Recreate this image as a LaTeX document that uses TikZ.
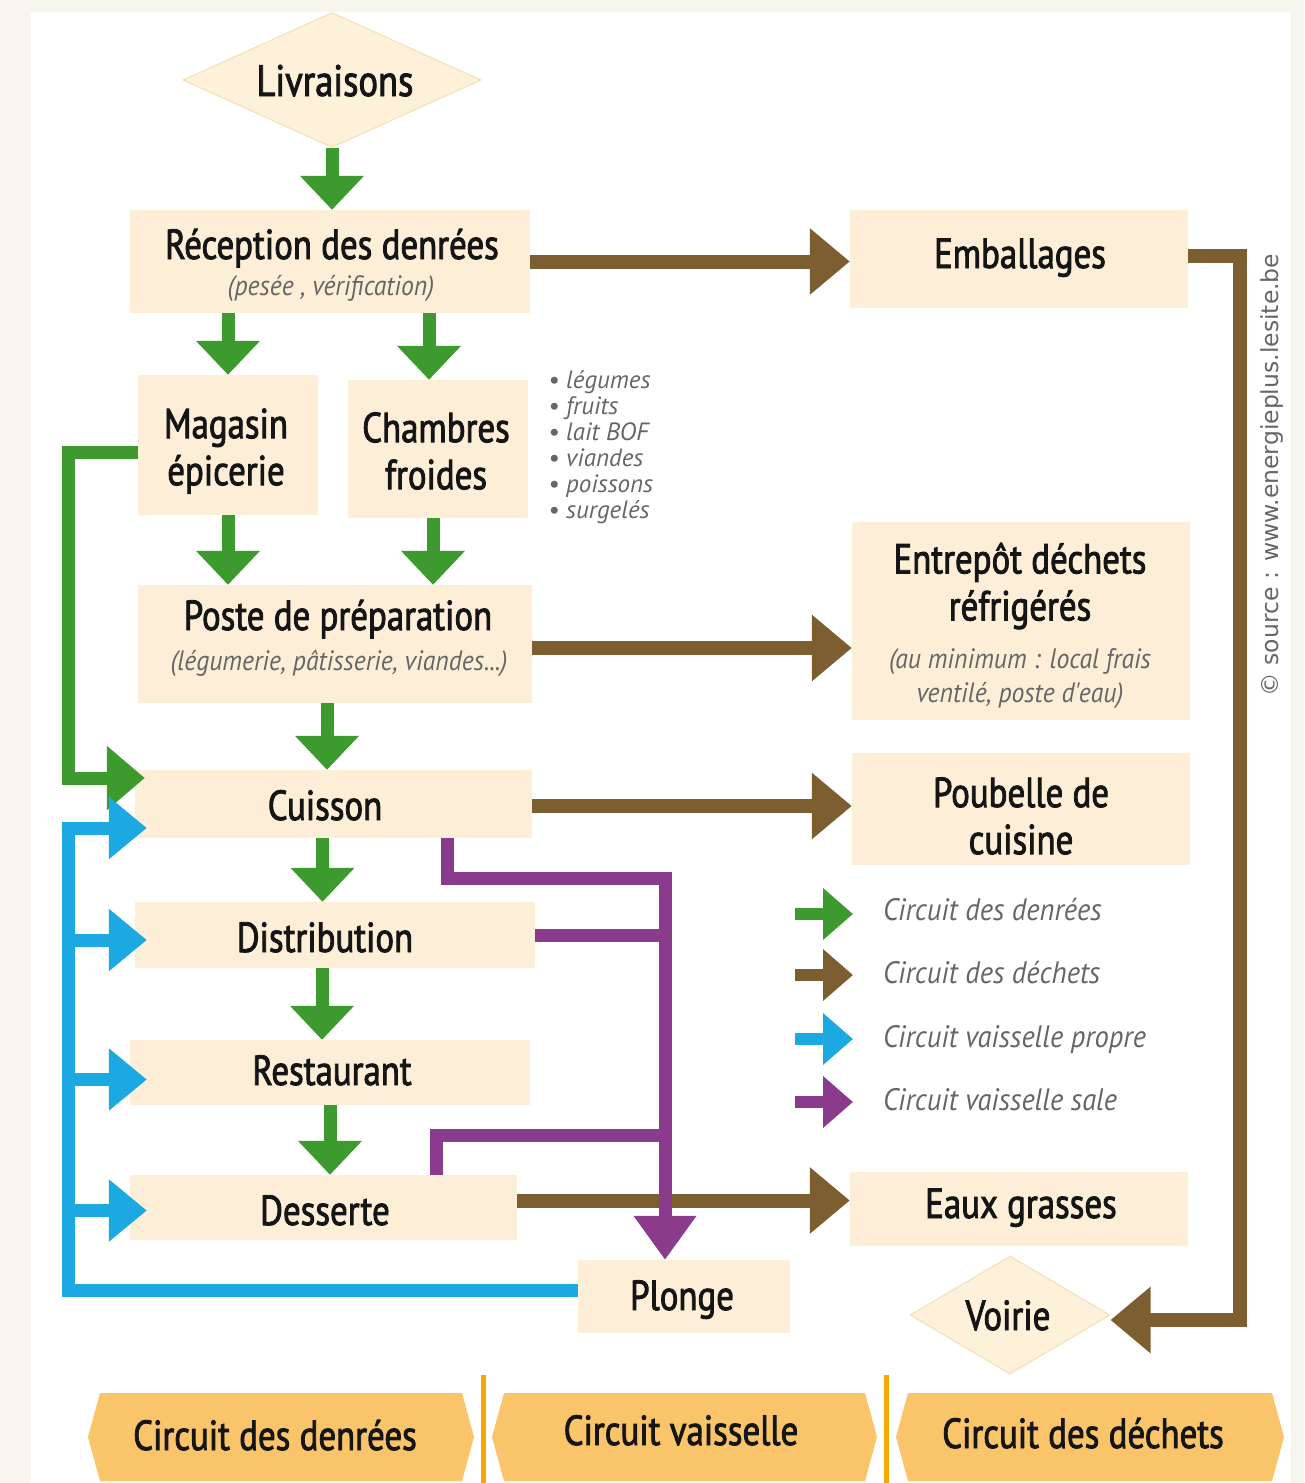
\documentclass[tikz,border=0pt]{standalone}
\usepackage{fontspec}
\setmainfont{PT Sans}[FakeStretch=0.83, FakeBold=2]
\newfontfamily\subfam{PT Sans}[FakeStretch=0.92]
\newfontfamily\listfam{PT Sans}[FakeStretch=1.0]
\newfontfamily\srcfont{DejaVu Sans}
\usetikzlibrary{arrows.meta,calc,shapes.geometric}
\definecolor{grn}{HTML}{3D9A2F}
\definecolor{brn}{HTML}{7D5E30}
\definecolor{blu}{HTML}{1CA8E0}
\definecolor{pur}{HTML}{8B3B8C}
\definecolor{boxfill}{HTML}{FDEFD7}
\definecolor{diafill}{HTML}{FDF1DA}
\definecolor{diaborder}{HTML}{F2DFB5}
\definecolor{outerbg}{HTML}{F6F5EE}
\definecolor{bannerfill}{HTML}{F9C46A}
\definecolor{sepcol}{HTML}{F6A800}
\definecolor{txt}{HTML}{151515}
\definecolor{graytxt}{HTML}{666666}
\begin{document}
\begin{tikzpicture}[x=1pt,y=-1pt,
  box/.style={rectangle, fill=boxfill, draw=none, inner sep=0pt},
  dia/.style={diamond, fill=diafill, draw=diaborder, line width=1pt, inner sep=0pt},
  ttl/.style={font=\fontsize{42}{47}\selectfont, text=txt, inner sep=0pt, align=center},
  sub/.style={font=\subfam\fontsize{28}{34}\selectfont\itshape, text=graytxt, inner sep=0pt, align=center},
  legtext/.style={font=\subfam\fontsize{31}{34}\selectfont\itshape, text=graytxt, inner sep=0pt, anchor=base west},
  bantext/.style={font=\fontsize{42}{46}\selectfont, text=txt, inner sep=0pt, anchor=base},
  gA/.style={draw=grn, line width=13pt, -{Triangle[length=34pt,width=62pt]}},
  gL/.style={draw=grn, line width=13pt, line join=miter, -{Triangle[length=38pt,width=62pt]}},
  bA/.style={draw=brn, line width=14pt, line join=miter, -{Triangle[length=40pt,width=64pt]}},
  cA/.style={draw=blu, line width=13pt, line join=miter, -{Triangle[length=38pt,width=60pt]}},
  pA/.style={draw=pur, line width=13pt, line join=miter, -{Triangle[length=44pt,width=60pt]}},
  pL/.style={draw=pur, line width=13pt, line join=miter},
  legA/.style={line width=12pt, -{Triangle[length=30pt,width=50pt]}}
]
\useasboundingbox (0,0) rectangle (1304,1483);
\fill[outerbg] (0,0) rectangle (1304,1483);
\fill[white] (31,12) rectangle (1291,1483);

% ---------- nodes ----------
\node[dia, minimum width=298, minimum height=135] (livraisons) at (332,80) {};
\node[ttl, anchor=base, font=\fontsize{44}{48}\selectfont] (livraisons-t) at (335,96) {Livraisons};

\node[box, minimum width=400, minimum height=103] (reception) at (330,261.5) {};
\node[ttl, anchor=base] (reception-t) at (332,259) {Réception des denrées};
\node[sub, anchor=base] (reception-s) at (331,295) {(pesée , vérification)};

\node[box, minimum width=180, minimum height=140] (magasin) at (228,445) {};
\node[ttl] (magasin-t) at (226,451) {Magasin\\épicerie};

\node[box, minimum width=180, minimum height=138] (chambres) at (438,449) {};
\node[ttl] (chambres-t) at (436,451) {Chambres\\froides};

\node[font=\listfam\fontsize{25}{26}\selectfont\itshape, text=graytxt, inner sep=0pt, align=left, anchor=north west] (liste) at (548,370)
  {• légumes\\• fruits\\• lait BOF\\• viandes\\• poissons\\• surgelés};

\node[box, minimum width=394, minimum height=118] (poste) at (335,644) {};
\node[ttl, anchor=base] (poste-t) at (338,630) {Poste de préparation};
\node[sub, anchor=base] (poste-s) at (339,670) {(légumerie, pâtisserie, viandes...)};

\node[box, minimum width=397, minimum height=68] (cuisson) at (333.5,804) {};
\node[ttl, anchor=base] (cuisson-t) at (325,820) {Cuisson};

\node[box, minimum width=400, minimum height=66] (distribution) at (335,935) {};
\node[ttl, anchor=base] (distribution-t) at (325,952) {Distribution};

\node[box, minimum width=400, minimum height=65] (restaurant) at (330,1072.5) {};
\node[ttl, anchor=base] (restaurant-t) at (332,1085) {Restaurant};

\node[box, minimum width=387, minimum height=65] (desserte) at (323.5,1207.5) {};
\node[ttl, anchor=base] (desserte-t) at (325,1225) {Desserte};

\node[box, minimum width=212, minimum height=73] (plonge) at (684,1296.5) {};
\node[ttl, anchor=base] (plonge-t) at (682,1310) {Plonge};

\node[box, minimum width=338, minimum height=98] (emballages) at (1019,259) {};
\node[ttl, anchor=base] (emballages-t) at (1020,268) {Emballages};

\node[box, minimum width=338, minimum height=198] (entrepot) at (1021,621) {};
\node[ttl] (entrepot-t) at (1020,586) {Entrepôt déchets\\réfrigérés};
\node[sub] (entrepot-s) at (1020,679) {(au minimum : local frais\\ventilé, poste d'eau)};

\node[box, minimum width=338, minimum height=112] (poubelle) at (1021,809) {};
\node[ttl] (poubelle-t) at (1021,816) {Poubelle de\\cuisine};

\node[box, minimum width=338, minimum height=74] (eaux) at (1019,1209) {};
\node[ttl, anchor=base] (eaux-t) at (1021,1218) {Eaux grasses};

\node[dia, minimum width=200, minimum height=118] (voirie) at (1010,1315) {};
\node[ttl, anchor=base] (voirie-t) at (1008,1330) {Voirie};

% ---------- helper coordinates ----------
\coordinate (lx) at (68,600);
\coordinate (bx) at (68,1000);
\coordinate (rx) at (1240,700);
\coordinate (pj) at (665,878);
\coordinate (pe) at ($(poste.east)+(0,4)$);
\coordinate (ce) at ($(cuisson.east)+(0,2)$);
\coordinate (de) at ($(desserte.east)+(0,-7)$);
\coordinate (ee) at ($(emballages.east)+(0,-3)$);
\coordinate (ve) at ($(voirie.east)+(0,5)$);
\coordinate (mw) at ($(magasin.west)+(0,7)$);
\coordinate (cwg) at ($(cuisson.west)+(10,-26)$);
\coordinate (cwb) at ($(cuisson.west)+(12,24)$);
\coordinate (pw) at ($(plonge.west)+(0,-6)$);
\coordinate (dw) at ($(distribution.west)+(12,5)$);
\coordinate (rw) at ($(restaurant.west)+(17,7)$);
\coordinate (sw) at ($(desserte.west)+(17,3)$);
\coordinate (ch1) at ($(chambres.north)+(-9,0)$);
\coordinate (ch2) at ($(chambres.south)+(-5,0)$);
\coordinate (ps) at ($(poste.south)+(-8,0)$);
\coordinate (cs) at ($(cuisson.south)+(-11,0)$);
\coordinate (cp) at ($(cuisson.south)+(114,0)$);
\coordinate (ds) at ($(distribution.south)+(-13,0)$);
\coordinate (dn) at ($(desserte.north)+(113,0)$);
\coordinate (pj2) at (665,1135);

% ---------- brown (waste) ----------
\draw[bA] (reception.east) -- (reception.east -| emballages.west);
\draw[bA] (pe) -- (pe -| entrepot.west);
\draw[bA] (ce) -- (ce -| poubelle.west);
\draw[bA] (de) -- (de -| eaux.west);
\draw[bA] (ee) -| (rx) |- (ve);

% ---------- green (food) ----------
\draw[gA] (livraisons.south) -- (livraisons.south |- reception.north);
\draw[gA] (reception.south -| magasin.north) -- (magasin.north);
\draw[gA] (ch1 |- reception.south) -- (ch1);
\draw[gA] (magasin.south) -- (magasin.south |- poste.north);
\draw[gA] (ch2) -- (ch2 |- poste.north);
\draw[gA] (ps) -- (ps |- cuisson.north);
\draw[gA] (cs) -- (cs |- distribution.north);
\draw[gA] (ds) -- (ds |- restaurant.north);
\draw[gA] (restaurant.south) -- (restaurant.south |- desserte.north);
\draw[gL] (mw) -| (lx) |- (cwg);

% ---------- blue (clean dishes) ----------
\draw[cA] (pw) -| (bx) |- (cwb);
\draw[cA] (bx |- dw) -- (dw);
\draw[cA] (bx |- rw) -- (rw);
\draw[cA] (bx |- sw) -- (sw);

% ---------- purple (dirty dishes) ----------
\draw[pL] (distribution.east) -- (pj |- distribution.east);
\draw[pL] (dn) |- (pj2);
\draw[pA] (cp) |- (pj) -- (pj |- plonge.north);

% ---------- legend ----------
\node[legtext] (lg1) at (883,920) {Circuit des denrées};
\node[legtext] (lg2) at (883,983) {Circuit des déchets};
\node[legtext] (lg3) at (883,1047) {Circuit vaisselle propre};
\node[legtext] (lg4) at (883,1110) {Circuit vaisselle sale};
\coordinate (l1a) at ($(lg1.base west)+(-88,-6)$);
\coordinate (l2a) at ($(lg2.base west)+(-88,-8)$);
\coordinate (l3a) at ($(lg3.base west)+(-88,-8)$);
\coordinate (l4a) at ($(lg4.base west)+(-88,-8)$);
\draw[legA, draw=grn] (l1a) -- ++(58,0);
\draw[legA, draw=brn] (l2a) -- ++(58,0);
\draw[legA, draw=blu] (l3a) -- ++(58,0);
\draw[legA, draw=pur] (l4a) -- ++(58,0);

% ---------- source ----------
\node[rotate=90, font=\srcfont\fontsize{23.5}{26}\selectfont, text=graytxt, inner sep=0pt] (src) at (1272,475) {© source : www.energieplus.lesite.be};

% ---------- bottom banners ----------
\fill[bannerfill] (100,1393) -- (462,1393) -- (474,1437) -- (462,1481) -- (100,1481) -- (88,1437) -- cycle;
\fill[bannerfill] (504,1393) -- (865,1393) -- (877,1437) -- (865,1481) -- (504,1481) -- (492,1437) -- cycle;
\fill[bannerfill] (908,1393) -- (1272,1393) -- (1284,1437) -- (1272,1481) -- (908,1481) -- (896,1437) -- cycle;
\draw[sepcol, line width=5pt] (483,1375) -- (483,1483);
\draw[sepcol, line width=5pt] (886,1375) -- (886,1483);
\node[bantext] (ban1) at (275,1450) {Circuit des denrées};
\node[bantext] (ban2) at (681,1445) {Circuit vaisselle};
\node[bantext] (ban3) at (1083,1448) {Circuit des déchets};
\end{tikzpicture}
\end{document}
